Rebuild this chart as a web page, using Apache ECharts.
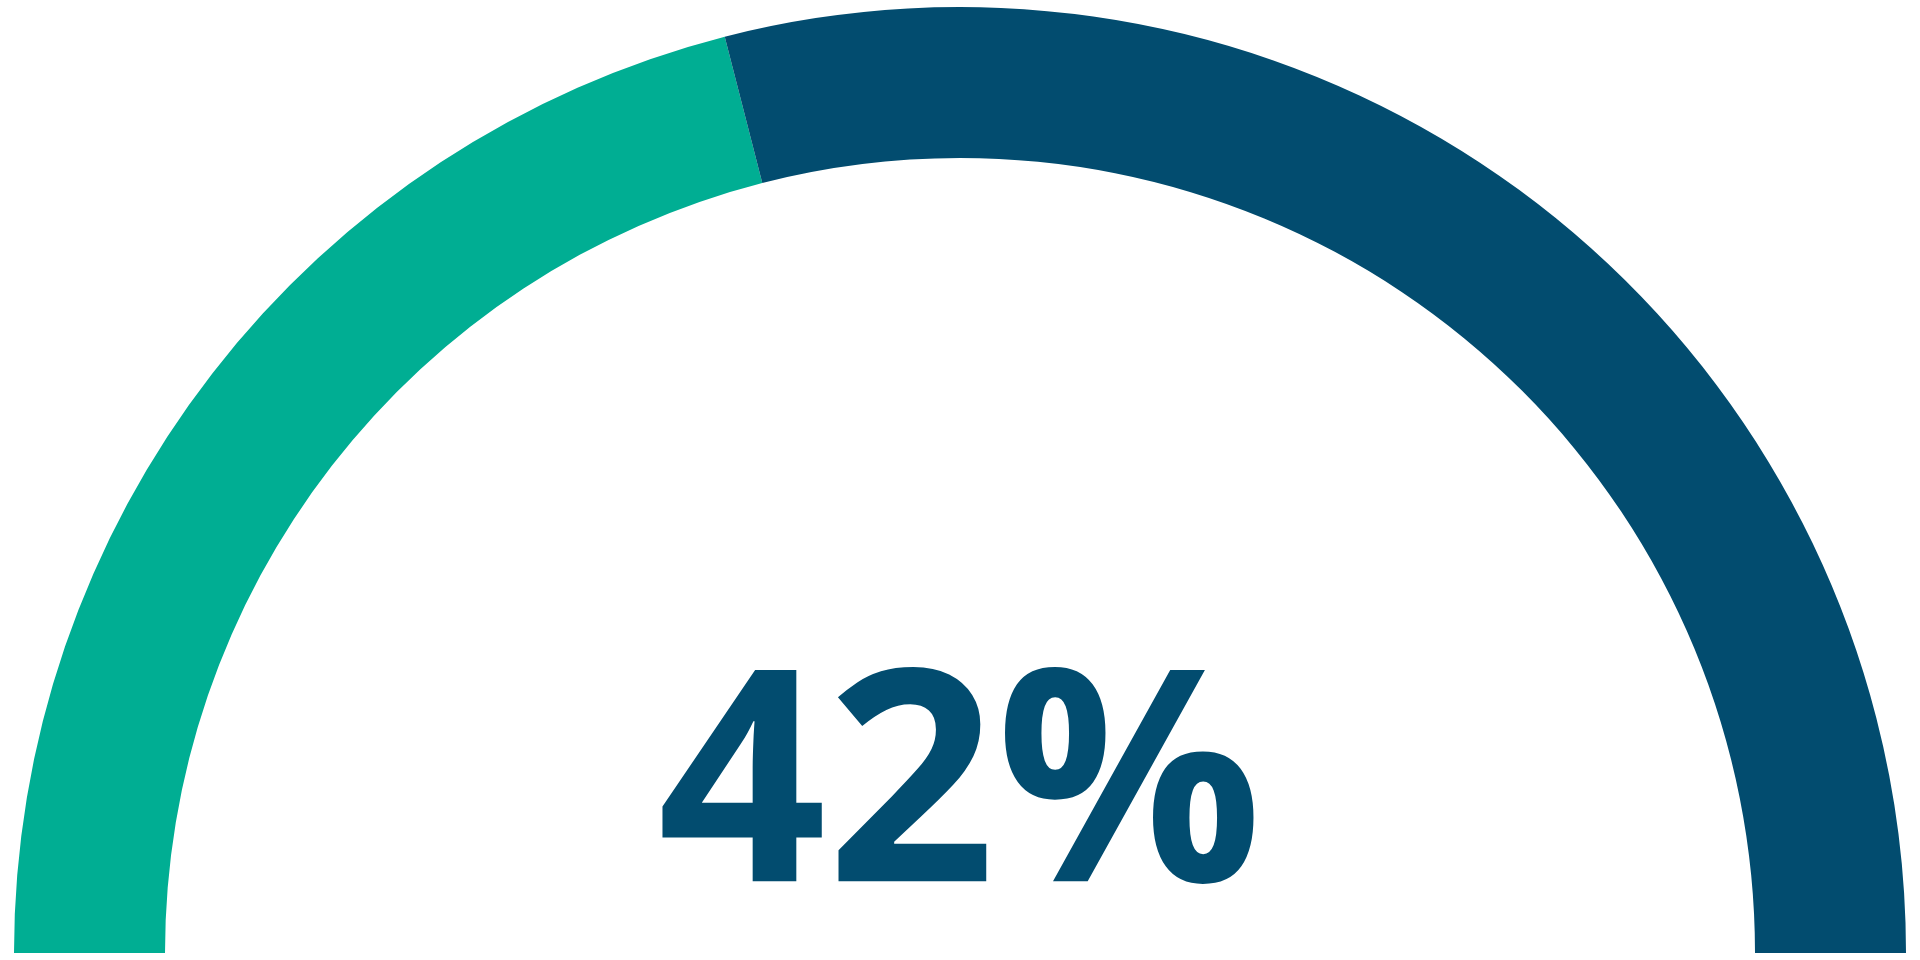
<!DOCTYPE html>
<html>
<head>
<meta charset="utf-8">
<script src="https://cdn.jsdelivr.net/npm/echarts@6/dist/echarts.min.js"></script>
<style>
  html, body { margin: 0; padding: 0; background: #ffffff; }
  #chart { width: 1920px; height: 960px; }
</style>
</head>
<body>
<div id="chart"></div>
<script>
const categories = ['Achieved', 'Remaining'];
const values = [42, 58];
const colors = ['#00AE93', '#024C6F'];

const chart = echarts.init(document.getElementById('chart'), null, { renderer: 'canvas' });
const pct = Math.round(values[0] / (values[0] + values[1]) * 100) + '%';

chart.setOption({
  animation: false,
  backgroundColor: '#ffffff',
  series: [{
    type: 'pie',
    center: [960, 953],
    radius: [795, 946],
    startAngle: 180,
    endAngle: 0,
    clockwise: true,
    silent: true,
    label: { show: false },
    labelLine: { show: false },
    itemStyle: { borderWidth: 0 },
    data: categories.map((c, i) => ({ name: c, value: values[i], itemStyle: { color: colors[i] } }))
  }],
  graphic: [{
    type: 'text',
    x: 960,
    y: 797,
    style: {
      text: pct,
      fill: '#024C6F',
      font: 'bold 296px "Open Sans"',
      align: 'center',
      verticalAlign: 'middle'
    }
  }]
});
</script>
</body>
</html>
